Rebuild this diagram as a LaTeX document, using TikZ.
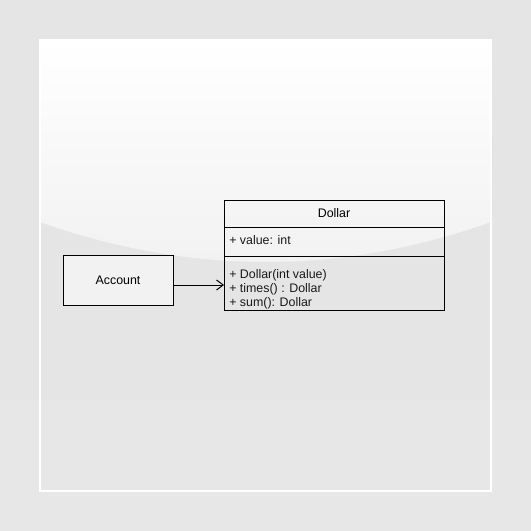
\documentclass[tikz,border=0pt]{standalone}
\usepackage{fontspec}
\setmainfont{Liberation Sans}
\usetikzlibrary{arrows.meta}
\begin{document}
\begin{tikzpicture}[x=0.75pt,y=-0.75pt,
  font=\fontsize{9.3}{11}\selectfont,
  umlbox/.style={draw=black, line width=0.75pt, inner sep=0pt, outer sep=0pt},
  member/.style={anchor=base west, inner sep=0pt, text=black!90},
  conn/.style={draw=black, line width=0.75pt, -{Straight Barb[length=5pt,width=7.5pt,line width=0.75pt]}}]
\useasboundingbox (0,0) rectangle (531,531);
% background
\fill[black!10] (0,0) rectangle (531,400);
\fill[black!9.5] (0,400) rectangle (531,531);
% gloss
\shade[top color=white, bottom color=black!5.5]
  (40,40) -- (491,40) -- (491,222) .. controls (340.7,275.3) and (190.3,275.3) .. (40,222) -- cycle;
\draw[white, line width=1.1pt] (40,40) rectangle (491,491);
% Dollar class
\node[umlbox, text depth=0pt, minimum width=165pt, minimum height=20.25pt] (dollar) at (334,213.5) {Dollar};
\node[umlbox, minimum width=165pt, minimum height=21.75pt, anchor=north] (attrs) at (dollar.south) {};
\node[umlbox, minimum width=165pt, minimum height=40.5pt, anchor=north] (methods) at (attrs.south) {};
\node[member] (a1) at (229,244.5) {+ value: int};
\node[member] (m1) at (229,278) {+ Dollar(int value)};
\node[member] (m2) at (229,292) {+ times() : Dollar};
\node[member] (m3) at (229,306) {+ sum(): Dollar};
% Account
\node[umlbox, text depth=0pt, fill=black!5, minimum width=82.5pt, minimum height=37.5pt] (account) at (118,280) {Account};
% association
\coordinate (as) at ([yshift=-3.75pt]account.east);
\coordinate (ae) at (as -| methods.west);
\draw[conn] (as) -- (ae);
\end{tikzpicture}
\end{document}
